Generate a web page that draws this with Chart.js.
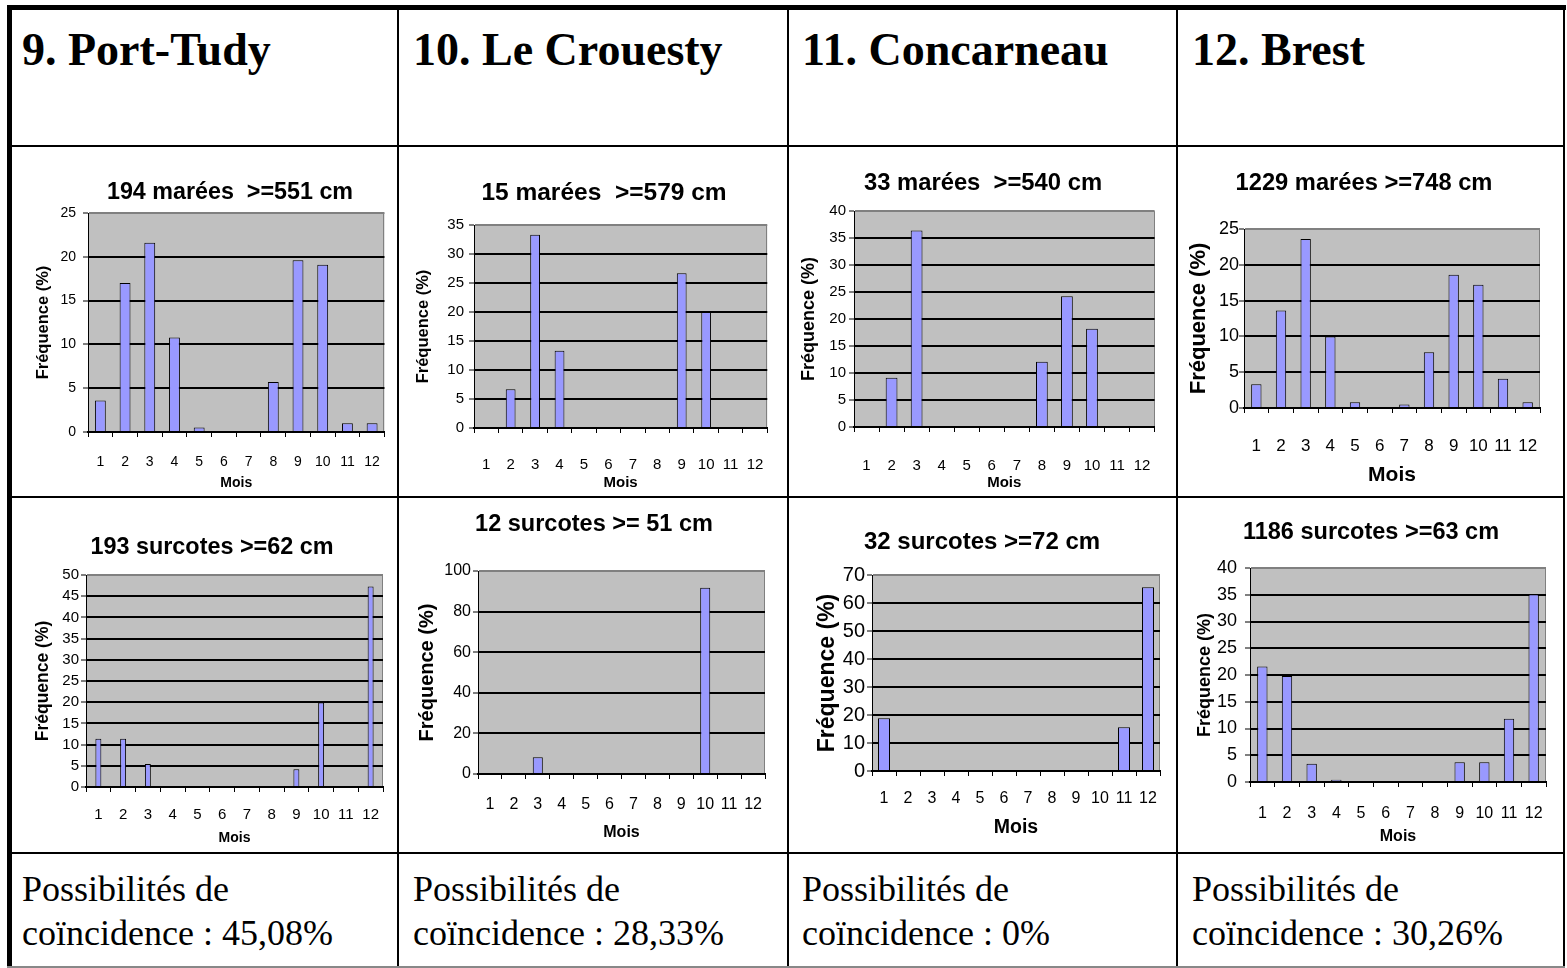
<!DOCTYPE html>
<html>
<head>
<meta charset="utf-8">
<script src="https://cdn.jsdelivr.net/npm/chart.js"></script>
<style>
body{margin:0;background:#fff;}
#page{position:relative;width:1567px;height:968px;overflow:hidden;background:#fff;}
.line{position:absolute;background:#000;z-index:2;}
.head{position:absolute;font:bold 46px/46px 'Liberation Serif','Times New Roman',serif;color:#000;white-space:nowrap;}
.foot{position:absolute;font:36px/44px 'Liberation Serif','Times New Roman',serif;color:#000;white-space:nowrap;}
canvas{position:absolute;}
</style>
</head>
<body>
<div id="page"></div>
<script>
// data (% per month)
var months = ['1','2','3','4','5','6','7','8','9','10','11','12'];
var portTudyMarees    = [3.6, 17.0, 21.6, 10.8, 0.5, 0, 0, 5.7, 19.6, 19.1, 1.0, 1.0];
var leCrouestyMarees  = [0, 6.7, 33.3, 13.3, 0, 0, 0, 0, 26.7, 20.0, 0, 0];
var concarneauMarees  = [0, 9.1, 36.4, 0, 0, 0, 0, 12.1, 24.2, 18.2, 0, 0];
var brestMarees       = [3.3, 13.6, 23.6, 10.0, 0.8, 0, 0.5, 7.8, 18.6, 17.2, 4.1, 0.8];
var portTudySurcotes   = [11.4, 11.4, 5.4, 0, 0, 0, 0, 0, 4.2, 19.9, 0, 47.3];
var leCrouestySurcotes = [0, 0, 8.3, 0, 0, 0, 0, 0, 0, 91.7, 0, 0];
var concarneauSurcotes = [18.8, 0, 0, 0, 0, 0, 0, 0, 0, 0, 15.6, 65.6];
var brestSurcotes      = [21.6, 19.8, 3.4, 0.4, 0, 0, 0, 0, 3.7, 3.7, 11.8, 35.1];

var stations = ['9. Port-Tudy', '10. Le Crouesty', '11. Concarneau', '12. Brest'];
var mareeTitles = ['194 marées  >=551 cm', '15 marées  >=579 cm', '33 marées  >=540 cm', '1229 marées >=748 cm'];
var surcoteTitles = ['193 surcotes >=62 cm', '12 surcotes >= 51 cm', '32 surcotes >=72 cm', '1186 surcotes >=63 cm'];
var coincidences = ['45,08%', '28,33%', '0%', '30,26%'];
var mareeMax = [25, 35, 40, 25];
var mareeStep = [5, 5, 5, 5];
var surcoteMax = [50, 100, 70, 40];
var surcoteStep = [5, 20, 10, 5];
var xTitle = 'Mois';
var yTitle = 'Fréquence (%)';

var sans = "'Liberation Sans', Arial, sans-serif";

// page geometry of each chart (cell, plot area, text positions and sizes)
var mareeLayout = [
  {cell:[12,148,397,496], plot:[88,213,385,432], tx:230, ty:193, ts:23.3, yx:43, ys:16.5, yt:14, yg:12, xy:462, xs:14, my:483, ms:14, bar:0.44},
  {cell:[399,148,787,496], plot:[474,225,772,428], tx:604, ty:193, ts:24.5, yx:423, ys:16.5, yt:15, yg:10, xy:465, xs:15, my:483, ms:15, bar:0.4},
  {cell:[789,148,1176,496], plot:[854,211,1162,427], tx:983, ty:183, ts:23.8, yx:809, ys:18, yt:15, yg:8, xy:466, xs:15, my:483, ms:15, bar:0.47},
  {cell:[1178,148,1563,496], plot:[1244,229,1540,408], tx:1364, ty:183, ts:23.7, yx:1199, ys:22, yt:18, yg:4, xy:446, xs:17, my:475, ms:21, bar:0.42}
];
var surcoteLayout = [
  {cell:[12,498,397,852], plot:[86,575,383,787], tx:212, ty:548, ts:23.4, yx:43, ys:17.5, yt:15, yg:7, xy:815, xs:15, my:838, ms:14, bar:0.24},
  {cell:[399,498,787,852], plot:[478,571,765,774], tx:594, ty:525, ts:23.5, yx:427, ys:20, yt:16, yg:7, xy:805, xs:16, my:833, ms:16, bar:0.42},
  {cell:[789,498,1176,852], plot:[872,575,1160,771], tx:982, ty:542, ts:24, yx:828, ys:23, yt:20, yg:7, xy:799, xs:16, my:828, ms:19.5, bar:0.5},
  {cell:[1178,498,1563,852], plot:[1250,568,1546,782], tx:1371, ty:533, ts:23.5, yx:1205, ys:18, yt:18, yg:13, xy:814, xs:16, my:837, ms:16, bar:0.42}
];

var page = document.getElementById('page');

// grey plot area, grey top/right frame, and title offset
var plotFrame = {
  id: 'plotFrame',
  beforeDraw: function(chart) {
    var a = chart.chartArea, ctx = chart.ctx;
    ctx.save();
    ctx.fillStyle = '#c0c0c0';
    ctx.fillRect(a.left, a.top, a.right - a.left, a.bottom - a.top);
    ctx.strokeStyle = '#808080';
    ctx.lineWidth = 1;
    ctx.beginPath();
    ctx.moveTo(a.left, Math.round(a.top) + 0.5);
    ctx.lineTo(Math.round(a.right) - 0.5, Math.round(a.top) + 0.5);
    ctx.lineTo(Math.round(a.right) - 0.5, a.bottom);
    ctx.stroke();
    ctx.restore();
  },
  afterLayout: function(chart, args, opts) {
    var tb = chart.titleBlock;
    if (tb && opts.titleX != null) {
      var dx = opts.titleX - (tb.left + tb.right) / 2;
      tb.left += dx;
      tb.right += dx;
    }
  }
};

function makeChart(values, title, yMax, yStep, g) {
  var x0 = g.cell[0], y0 = g.cell[1];
  var w = g.cell[2] - x0, h = g.cell[3] - y0;
  var cv = document.createElement('canvas');
  cv.width = w;
  cv.height = h;
  cv.style.left = x0 + 'px';
  cv.style.top = y0 + 'px';
  page.appendChild(cv);

  var tickLen = 5;
  var tLH = g.ts * 1.2;
  var tPadTop = g.ty - y0 - tLH / 2;
  var tPadBottom = g.plot[1] - y0 - tPadTop - tLH;
  var yLH = g.ys * 1.2;
  var padL = Math.max(0, g.yx - x0 - yLH / 2);
  var yWidth = g.plot[0] - x0 - padL;
  var padR = g.cell[2] - g.plot[2];
  var xHeight = g.cell[3] - g.plot[3];
  var xTickPad = g.xy - g.plot[3] - tickLen - g.xs * 0.6;
  var moisPad = g.cell[3] - g.my - g.ms * 0.6;

  return new Chart(cv, {
    type: 'bar',
    data: {
      labels: months,
      datasets: [{
        data: values,
        backgroundColor: '#9999ff',
        borderColor: '#000',
        borderWidth: 1,
        barPercentage: g.bar,
        categoryPercentage: 1
      }]
    },
    options: {
      responsive: false,
      animation: false,
      layout: { padding: { left: padL, right: padR, top: 0, bottom: 0 } },
      plugins: {
        legend: { display: false },
        tooltip: { enabled: false },
        title: {
          display: true,
          text: title,
          color: '#000',
          font: { family: sans, size: g.ts, weight: 'bold' },
          padding: { top: tPadTop, bottom: tPadBottom }
        },
        plotFrame: { titleX: g.tx - x0 }
      },
      scales: {
        x: {
          offset: true,
          afterFit: function(s) { s.height = xHeight; },
          grid: { offset: true, drawOnChartArea: false, drawTicks: true, tickLength: tickLen, color: '#000', lineWidth: 1, tickWidth: 1 },
          border: { display: true, color: '#000', width: 2 },
          ticks: { color: '#000', padding: xTickPad, maxRotation: 0, autoSkip: false, font: { family: sans, size: g.xs } },
          title: {
            display: true,
            text: xTitle,
            color: '#000',
            font: { family: sans, size: g.ms, weight: 'bold' },
            padding: { top: 0, bottom: moisPad }
          }
        },
        y: {
          min: 0,
          max: yMax,
          afterFit: function(s) { s.width = yWidth; },
          grid: {
            drawTicks: true,
            tickLength: tickLen,
            tickWidth: 1,
            tickColor: '#000',
            lineWidth: 2,
            color: function(c) { return c.tick && c.tick.value === yMax ? '#808080' : '#000'; }
          },
          border: { display: true, color: '#000', width: 1 },
          ticks: { stepSize: yStep, color: '#000', padding: Math.max(0, g.yg - tickLen), font: { family: sans, size: g.yt } },
          title: {
            display: true,
            text: yTitle,
            color: '#000',
            font: { family: sans, size: g.ys, weight: 'bold' },
            padding: { top: 0, bottom: 0 }
          }
        }
      }
    },
    plugins: [plotFrame]
  });
}

var mareeData = [portTudyMarees, leCrouestyMarees, concarneauMarees, brestMarees];
var surcoteData = [portTudySurcotes, leCrouestySurcotes, concarneauSurcotes, brestSurcotes];
for (var i = 0; i < 4; i++) {
  makeChart(mareeData[i], mareeTitles[i], mareeMax[i], mareeStep[i], mareeLayout[i]);
  makeChart(surcoteData[i], surcoteTitles[i], surcoteMax[i], surcoteStep[i], surcoteLayout[i]);
}

// table text
var textLeft = [22, 413, 802, 1192];
for (var j = 0; j < 4; j++) {
  var hd = document.createElement('div');
  hd.className = 'head';
  hd.style.left = textLeft[j] + 'px';
  hd.style.top = '27px';
  hd.textContent = stations[j];
  page.appendChild(hd);

  var ft = document.createElement('div');
  ft.className = 'foot';
  ft.style.left = textLeft[j] + 'px';
  ft.style.top = '867px';
  ft.innerHTML = 'Possibilités de<br>coïncidence : ' + coincidences[j];
  page.appendChild(ft);
}

// table borders
function line(x, y, w, h, col) {
  var d = document.createElement('div');
  d.className = 'line';
  d.style.left = x + 'px';
  d.style.top = y + 'px';
  d.style.width = w + 'px';
  d.style.height = h + 'px';
  if (col) d.style.background = col;
  page.appendChild(d);
}
line(7, 5, 1559, 5);
line(7, 5, 5, 963);
line(397, 5, 2, 963);
line(787, 5, 2, 963);
line(1176, 5, 2, 963);
line(1563, 5, 2, 963);
line(7, 145, 1558, 2);
line(7, 496, 1558, 2);
line(7, 852, 1558, 2);
line(7, 966, 1558, 2, '#888');
</script>
</body>
</html>
